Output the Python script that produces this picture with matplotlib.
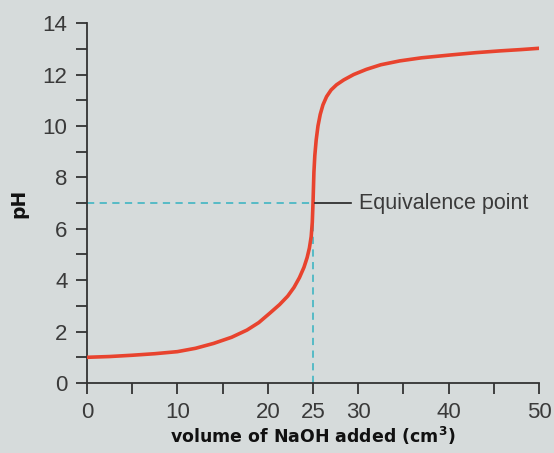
import matplotlib.pyplot as plt

# titration curve
volume = [0, 2.5, 5, 7.5, 10, 12, 14, 16, 17.7, 19, 20.2, 21.3, 22.2, 22.9, 23.5,
          24.0, 24.35, 24.6, 24.8, 24.92, 25.0, 25.05, 25.1, 25.2, 25.35, 25.55,
          25.8, 26.1, 26.5, 27.0, 27.6, 28.4, 29.5, 30.9, 32.5, 34.6, 37, 40.2,
          43, 45.7, 48, 50]
ph = [1.0, 1.03, 1.08, 1.14, 1.22, 1.35, 1.54, 1.78, 2.06, 2.35, 2.71, 3.05,
      3.38, 3.72, 4.1, 4.5, 4.88, 5.25, 5.7, 6.25, 7.0, 7.6, 8.2, 8.85, 9.45,
      10.0, 10.45, 10.82, 11.14, 11.4, 11.6, 11.79, 12.0, 12.2, 12.38, 12.53,
      12.65, 12.76, 12.85, 12.92, 12.97, 13.02]

x_ticks = [0, 5, 10, 15, 20, 25, 30, 35, 40, 45, 50]
x_labels = ['0', '', '10', '', '20', '25', '30', '', '40', '', '50']
y_ticks = list(range(0, 15))
y_labels = [str(v) if v % 2 == 0 else '' for v in y_ticks]

eq_x, eq_y = 25, 7

bg = '#d6dbdb'
red = '#e8432e'
cyan = '#4cb8c4'
txt = '#3a3a3a'

fig = plt.figure(figsize=(5.54, 4.53), dpi=100, facecolor=bg)
ax = fig.add_axes([0.157, 0.1545, 0.816, 0.7945])
ax.set_facecolor(bg)

ax.plot([0, eq_x], [eq_y, eq_y], color=cyan, lw=1.3, dashes=(4, 3), zorder=2)
ax.plot([eq_x, eq_x], [0, eq_y], color=cyan, lw=1.3, dashes=(4, 3), zorder=2)
ax.plot(volume, ph, color=red, lw=2.6, solid_joinstyle='round', zorder=3)

# annotation pointer
ax.plot([eq_x + 0.2, 29.2], [eq_y, eq_y], color='#222222', lw=1.2, zorder=3)
ax.text(30.1, eq_y, 'Equivalence point', va='center', ha='left', fontsize=15.5,
        color=txt, family='Liberation Sans')

ax.set_xlim(0, 50)
ax.set_ylim(0, 14)
ax.set_xticks(x_ticks)
ax.set_xticklabels(x_labels)
ax.set_yticks(y_ticks)
ax.set_yticklabels(y_labels)

for s in ['top', 'right']:
    ax.spines[s].set_visible(False)
for s in ['left', 'bottom']:
    ax.spines[s].set_color('#333333')
    ax.spines[s].set_linewidth(1.3)

ax.tick_params(direction='out', length=8, width=1.3, color='#333333',
               labelsize=16, labelcolor=txt, pad=6)
for lab in ax.get_xticklabels() + ax.get_yticklabels():
    lab.set_family('Liberation Sans')

ax.set_xlabel('volume of NaOH added (cm$^\\mathbf{3}$)', fontsize=12.5,
              fontweight='bold', color='#111111', labelpad=1)
ax.set_ylabel('pH', fontsize=13.5, fontweight='bold', color='#111111', labelpad=10)

fig.savefig('out.png', dpi=100, facecolor=bg)
